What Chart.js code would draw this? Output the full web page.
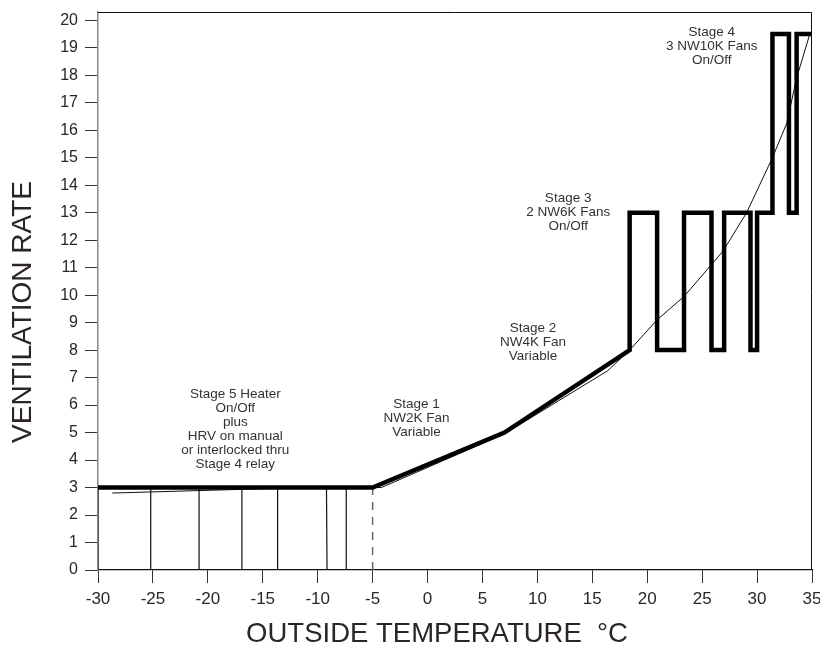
<!DOCTYPE html>
<html>
<head>
<meta charset="utf-8">
<script src="https://cdn.jsdelivr.net/npm/chart.js@4"></script>
<style>
  body { margin: 0; background: #fff; }
  canvas { display: block; }
</style>
</head>
<body>
<canvas id="vent" width="820" height="649"></canvas>
<script>
// staged ventilation (thick line)
const stageTemp = [-30, -5, 7, 18.4, 18.4, 20.9, 20.9, 23.35, 23.35, 25.85, 25.85, 27, 27, 29.4, 29.4, 30, 30, 31.4, 31.4, 32.9, 32.9, 33.6, 33.6, 35];
const stageRate = [3, 3, 5, 8, 13, 13, 8, 8, 13, 13, 8, 8, 13, 13, 8, 8, 13, 13, 19.5, 19.5, 13, 13, 19.5, 19.5];

// required ventilation curve (thin)
const needTemp = [-28.7, -13.7, -8, -5, -4.2, 7, 16.4, 18.4, 20.9, 23.35, 26.9, 29.05, 31.4, 32.7, 33.6, 34.8];
const needRate = [2.8, 2.97, 3.0, 3.0, 3.0, 4.95, 7.25, 8.0, 9.1, 9.95, 11.6, 13.0, 15.0, 16.25, 17.9, 19.5];

// HRV on/off below stage 1
const hrvTemp = [-30, -30, -25.2, -25.2, -20.8, -20.8, -16.9, -16.9, -13.65, -13.65, -9.2, -9.15, -7.4, -7.4, -5];
const hrvRate = [0, 3, 3, 0, 0, 3, 3, 0, 0, 3, 3, 0, 0, 3, 3];

// dashed marker at -5
const markTemp = [-5, -5];
const markRate = [0, 3];

const xTickValues = [-30, -25, -20, -15, -10, -5, 0, 5, 10, 15, 20, 25, 30, 35];
const yTickValues = [0, 1, 2, 3, 4, 5, 6, 7, 8, 9, 10, 11, 12, 13, 14, 15, 16, 17, 18, 19, 20];

const noteX = [-17.5, -1, 9.6, 12.8, 25.87];
const noteY = [6.4, 6.04, 8.8, 13.53, 19.56];
const noteText = [
  ['Stage 5 Heater', 'On/Off', 'plus', 'HRV on manual', 'or interlocked thru', 'Stage 4 relay'],
  ['Stage 1', 'NW2K Fan', 'Variable'],
  ['Stage 2', 'NW4K Fan', 'Variable'],
  ['Stage 3', '2 NW6K Fans', 'On/Off'],
  ['Stage 4', '3 NW10K Fans', 'On/Off']
];

function pts(xs, ys) {
  return xs.map((x, i) => ({ x: x, y: ys[i] }));
}

const textCol = '#2b2526';
const sans = '"Liberation Sans", Arial, sans-serif';

const extras = {
  id: 'extras',
  afterDatasetsDraw(chart) {
    const c = chart.ctx, a = chart.chartArea;
    const xs = chart.scales.x, ys = chart.scales.y;
    c.save();
    // frame top + right
    c.strokeStyle = '#111';
    c.lineWidth = 1;
    c.beginPath();
    c.moveTo(a.left, a.top + 0.5);
    c.lineTo(a.right - 0.5, a.top + 0.5);
    c.lineTo(a.right - 0.5, a.bottom);
    c.stroke();

    // notes
    c.fillStyle = '#333';
    c.font = '13.5px ' + sans;
    c.textAlign = 'center';
    c.textBaseline = 'middle';
    noteText.forEach((lines, i) => {
      const px = xs.getPixelForValue(noteX[i]);
      const py = ys.getPixelForValue(noteY[i]);
      lines.forEach((t, j) => c.fillText(t, px, py + j * 14));
    });

    // axis titles
    c.fillStyle = textCol;
    c.font = '27.5px ' + sans;
    c.fillText('OUTSIDE TEMPERATURE  \u00B0C', 437, 634);
    c.translate(23, 312);
    c.rotate(-Math.PI / 2);
    c.font = '28px ' + sans;
    c.fillText('VENTILATION RATE', 0, 0);
    c.restore();
  }
};

new Chart(document.getElementById('vent'), {
  type: 'line',
  data: {
    datasets: [
      {
        data: pts(stageTemp, stageRate),
        borderColor: '#000',
        borderWidth: 4.5,
        borderJoinStyle: 'miter',
        pointRadius: 0,
        tension: 0
      },
      {
        data: pts(needTemp, needRate),
        borderColor: '#111',
        borderWidth: 1,
        pointRadius: 0,
        tension: 0
      },
      {
        data: pts(hrvTemp, hrvRate),
        borderColor: '#111',
        borderWidth: 1.2,
        pointRadius: 0,
        tension: 0
      },
      {
        data: pts(markTemp, markRate),
        borderColor: '#666',
        borderWidth: 1.5,
        borderDash: [8, 7],
        pointRadius: 0
      }
    ]
  },
  options: {
    responsive: false,
    animation: false,
    layout: { padding: { top: 12, right: 8, left: 0, bottom: 0 } },
    plugins: { legend: { display: false }, tooltip: { enabled: false } },
    scales: {
      x: {
        type: 'linear',
        min: -30,
        max: 35,
        afterBuildTicks(s) { s.ticks = xTickValues.map(v => ({ value: v })); },
        afterFit(s) { s.height = 79; s.paddingLeft = 0; s.paddingRight = 0; },
        grid: { drawOnChartArea: false, drawTicks: true, tickLength: 13, color: '#333', lineWidth: 1 },
        border: { display: true, color: '#111', width: 1.2 },
        ticks: {
          color: textCol,
          padding: 6,
          maxRotation: 0,
          font: { family: sans, size: 17 }
        }
      },
      y: {
        type: 'linear',
        min: 0,
        max: 20.3,
        afterBuildTicks(s) { s.ticks = yTickValues.map(v => ({ value: v })); },
        afterFit(s) { s.width = 98; s.paddingTop = 0; s.paddingBottom = 0; },
        grid: { drawOnChartArea: false, drawTicks: true, tickLength: 13, color: '#333', lineWidth: 1 },
        border: { display: true, color: '#888', width: 1.5 },
        ticks: {
          color: textCol,
          padding: 7,
          font: { family: sans, size: 16 }
        }
      }
    }
  },
  plugins: [extras]
});
</script>
</body>
</html>
